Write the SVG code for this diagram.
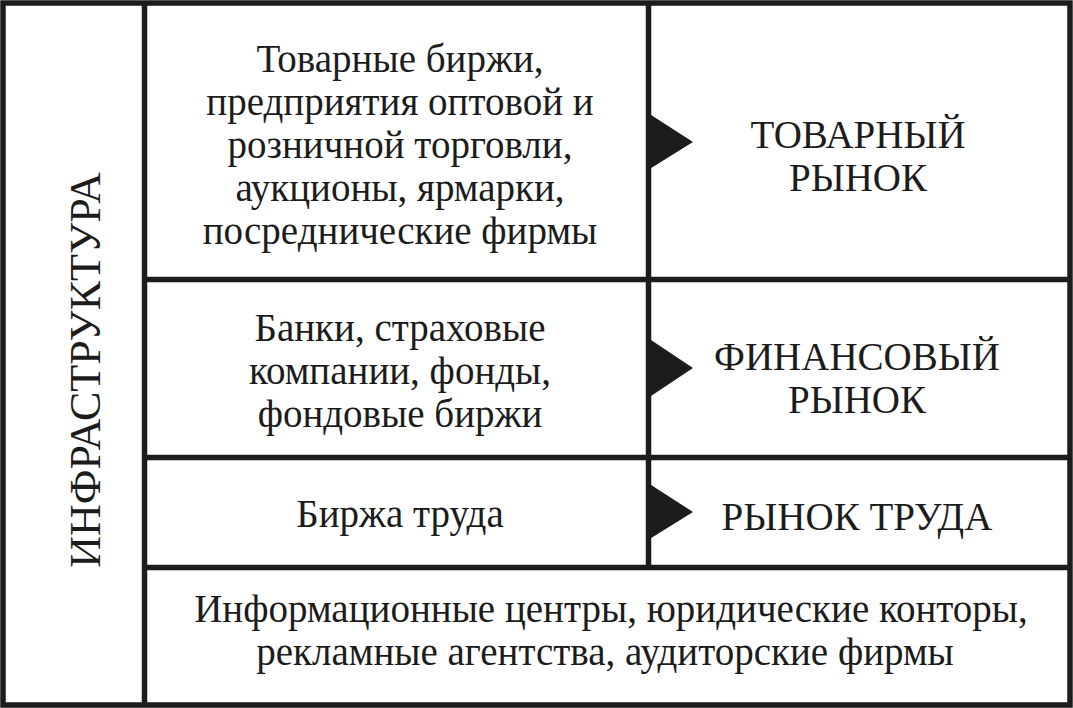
<svg xmlns="http://www.w3.org/2000/svg" width="1073" height="708" viewBox="0 0 1073 708">
<style>
.ln{stroke:#1c1c1c;stroke-width:5.5;fill:none}
.t{font-family:"Liberation Serif","Times New Roman",serif;font-size:39px;fill:#1c1c1c;text-anchor:middle}
.c{font-family:"Liberation Serif","Times New Roman",serif;font-size:44px;fill:#1c1c1c;text-anchor:middle}
.tri{fill:#1c1c1c}
</style>
<rect x="0" y="0" width="1073" height="708" fill="#fff"/>
<g id="frame">
<rect class="ln" x="3" y="3" width="1067" height="702" stroke-width="6"/>
<line class="ln" x1="144.5" y1="3" x2="144.5" y2="705"/>
<line class="ln" x1="648.5" y1="3" x2="648.5" y2="567.5"/>
<line class="ln" x1="144.5" y1="279.5" x2="1070" y2="279.5"/>
<line class="ln" x1="144.5" y1="457.5" x2="1070" y2="457.5"/>
<line class="ln" x1="144.5" y1="567.5" x2="1070" y2="567.5"/>
</g>
<g id="infra">
<text class="c" transform="translate(100,370) rotate(-90)">ИНФРАСТРУКТУРА</text>
</g>
<g id="goods-infra">
<text class="t" x="400" y="72">Товарные биржи,</text>
<text class="t" x="400" y="115">предприятия оптовой и</text>
<text class="t" x="400" y="158">розничной торговли,</text>
<text class="t" x="400" y="201">аукционы, ярмарки,</text>
<text class="t" x="400" y="244">посреднические фирмы</text>
</g>
<g id="goods-market">
<text class="t" x="858" y="148">ТОВАРНЫЙ</text>
<text class="t" x="858" y="191">РЫНОК</text>
</g>
<g id="fin-infra">
<text class="t" x="400" y="341">Банки, страховые</text>
<text class="t" x="400" y="384">компании, фонды,</text>
<text class="t" x="400" y="427">фондовые биржи</text>
</g>
<g id="fin-market">
<text class="t" x="857" y="370">ФИНАНСОВЫЙ</text>
<text class="t" x="857" y="413">РЫНОК</text>
</g>
<g id="labor-infra">
<text class="t" x="400" y="527">Биржа труда</text>
</g>
<g id="labor-market">
<text class="t" x="857" y="530">РЫНОК ТРУДА</text>
</g>
<g id="common-infra">
<text class="t" x="611" y="622">Информационные центры, юридические конторы,</text>
<text class="t" x="605" y="665">рекламные агентства, аудиторские фирмы</text>
</g>
<g id="connectors">
<polygon class="tri" points="648,113 693,142 648,170"/>
<polygon class="tri" points="648,338 693,368 648,398"/>
<polygon class="tri" points="648,483 693,512 648,540"/>
</g>
</svg>
